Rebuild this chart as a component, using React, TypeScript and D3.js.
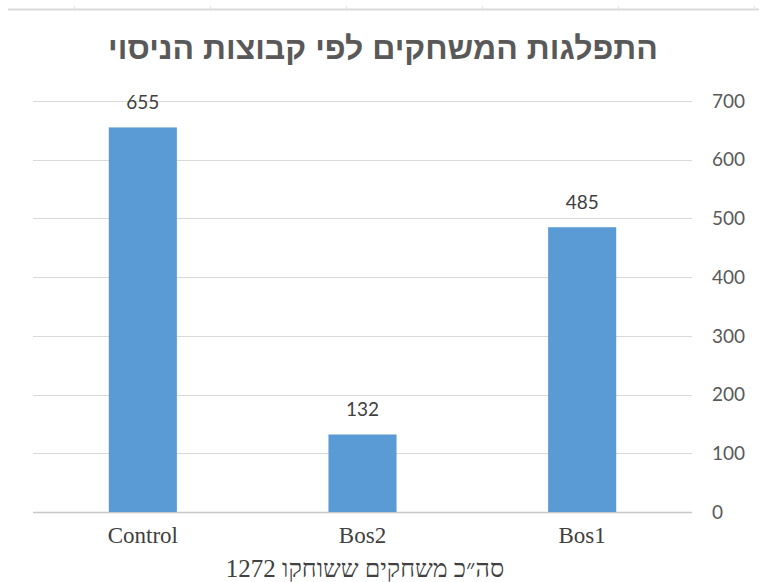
import React from 'react';
import * as d3 from 'd3';

// chart data
const categories = ['Control', 'Bos2', 'Bos1'];
const players = [655, 132, 485];
const yTicks = [0, 100, 200, 300, 400, 500, 600, 700];
const rulerTicks = [74, 210, 346, 482, 618, 754];

const title = 'התפלגות המשחקים לפי קבוצות הניסוי';
const footer = 'סה״כ משחקים ששוחקו 1272';

const W = 759;
const H = 582;
const plot = { left: 33, right: 692, top: 101, bottom: 512 };

export default function App() {
  const x = d3.scaleBand<string>()
    .domain(categories)
    .range([plot.left, plot.right])
    .paddingInner(0.69)
    .paddingOuter(0.345);
  const y = d3.scaleLinear().domain([0, 700]).range([plot.bottom, plot.top]);

  const numFont = { fontFamily: 'Lato, "Open Sans", sans-serif', fontSize: 19 };
  const serif = { fontFamily: '"Liberation Serif", "Times New Roman", serif', fill: '#404040' };

  return (
    <svg width={W} height={H} style={{ position: 'absolute', left: 0, top: 0, background: '#fff' }}>
      {/* sheet ruler line at the very top */}
      <line x1={8} x2={W} y1={9.5} y2={9.5} stroke="#d9d9d9" strokeWidth={2} />
      {rulerTicks.map((t) => (
        <line key={t} x1={t + 0.5} x2={t + 0.5} y1={6} y2={9} stroke="#e3e3e3" strokeWidth={1} />
      ))}

      <text x={383} y={59} textAnchor="middle" direction="rtl"
        style={{ fontFamily: '"Liberation Sans", Arial, sans-serif', fontWeight: 'bold', fontSize: 32, fill: '#595959' }}>
        {title}
      </text>

      {/* gridlines */}
      {yTicks.map((t) => (
        <line key={t} x1={plot.left} x2={plot.right} y1={Math.round(y(t)) + 0.5} y2={Math.round(y(t)) + 0.5}
          stroke={t === 0 ? '#c8c8c8' : '#d9d9d9'} strokeWidth={t === 0 ? 1.5 : 1} />
      ))}

      {/* right axis labels */}
      {yTicks.map((t) => (
        <text key={t} x={712} y={y(t)} dy="0.35em" style={{ ...numFont, fill: '#595959' }}>
          {t}
        </text>
      ))}

      {/* bars */}
      {categories.map((c, i) => (
        <rect key={c} x={x(c)!} y={y(players[i])} width={x.bandwidth()}
          height={y(0) - y(players[i])} fill="#5b9bd5" />
      ))}

      {/* value labels */}
      {categories.map((c, i) => (
        <text key={c} x={x(c)! + x.bandwidth() / 2} y={y(players[i]) - 18} textAnchor="middle"
          style={{ ...numFont, fill: '#404040' }}>
          {players[i]}
        </text>
      ))}

      {/* category labels */}
      {categories.map((c) => (
        <text key={c} x={x(c)! + x.bandwidth() / 2} y={543} textAnchor="middle"
          style={{ ...serif, fontSize: 23 }}>
          {c}
        </text>
      ))}

      <text x={365} y={577} textAnchor="middle" direction="rtl" style={{ ...serif, fontSize: 25 }}>
        {footer}
      </text>
    </svg>
  );
}
